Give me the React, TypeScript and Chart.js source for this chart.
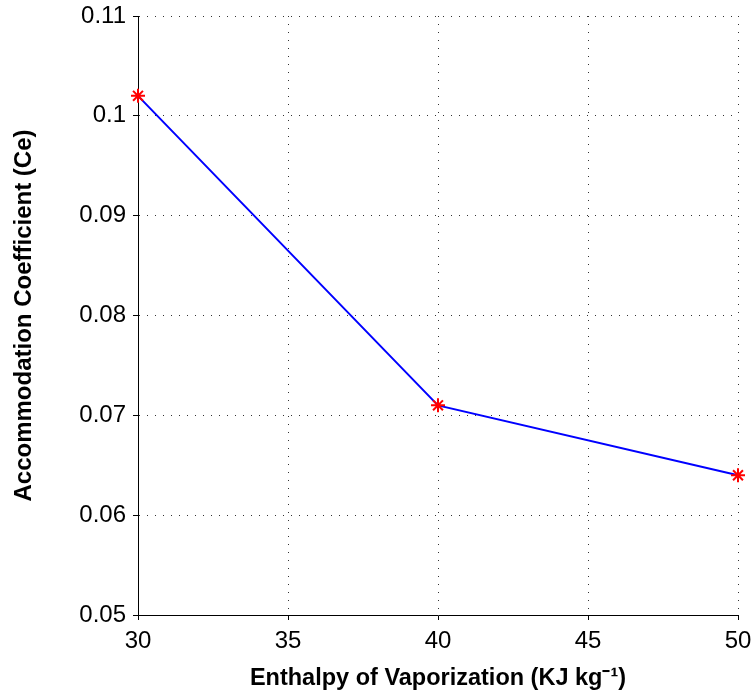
import React, { useEffect, useRef } from "react";
import { Chart, registerables } from "chart.js";

Chart.register(...registerables);

const enthalpy = [30, 40, 50];
const coefficient = [0.102, 0.071, 0.064];
const xTicks = [30, 35, 40, 45, 50];
const yTicks = [0.05, 0.06, 0.07, 0.08, 0.09, 0.1, 0.11];
const yTickLabels = ["0.05", "0.06", "0.07", "0.08", "0.09", "0.1", "0.11"];

export default function App() {
  const ref = useRef<HTMLCanvasElement>(null);
  useEffect(() => {
    if (!ref.current) return;
    const font = "Arial, 'Liberation Sans', Helvetica, sans-serif";
    const chart = new Chart(ref.current, {
      type: "line",
      data: {
        datasets: [
          {
            data: enthalpy.map((x, i) => ({ x, y: coefficient[i] })),
            borderColor: "#0000ff",
            borderWidth: 2,
            pointStyle: "star",
            pointRadius: 7,
            pointBorderColor: "#ff0000",
            pointBackgroundColor: "#ff0000",
            pointBorderWidth: 2,
            tension: 0,
            clip: false as any,
          },
        ],
      },
      options: {
        animation: false,
        responsive: false,
        maintainAspectRatio: false,
        layout: { padding: { top: 16, right: 15, left: 0, bottom: 0 } },
        plugins: { legend: { display: false }, tooltip: { enabled: false } },
        scales: {
          x: {
            type: "linear",
            min: 30,
            max: 50,
            afterBuildTicks: (s: any) => {
              s.ticks = xTicks.map((v) => ({ value: v }));
            },
            afterFit: (s: any) => {
              s.height = 76;
              s.paddingLeft = 0;
              s.paddingRight = 0;
            },
            ticks: {
              color: "#000",
              font: { family: font, size: 24 },
              padding: 7,
              maxRotation: 0,
            },
            grid: {
              color: "#333",
              tickBorderDash: [],
              tickColor: "#000",
              tickLength: 5,
              lineWidth: 1,
            } as any,
            border: { display: true, color: "#000", width: 1, dash: [1, 7] },
            title: {
              display: true,
              text: "Enthalpy of Vaporization (KJ kg⁻¹)",
              color: "#000",
              font: { family: font, size: 23.5, weight: "bold" },
              padding: { top: 0, bottom: -2 },
            },
          },
          y: {
            type: "linear",
            min: 0.05,
            max: 0.11,
            afterBuildTicks: (s: any) => {
              s.ticks = yTicks.map((v) => ({ value: v }));
            },
            afterFit: (s: any) => {
              s.width = 138;
              s.paddingTop = 0;
              s.paddingBottom = 0;
            },
            ticks: {
              color: "#000",
              font: { family: font, size: 24 },
              padding: 7,
              callback: (v: any) => {
                const i = yTicks.findIndex((t) => Math.abs(t - Number(v)) < 1e-9);
                return i >= 0 ? yTickLabels[i] : "";
              },
            },
            grid: {
              color: "#333",
              tickBorderDash: [],
              tickColor: "#000",
              tickLength: 5,
              lineWidth: 1,
            } as any,
            border: { display: true, color: "#000", width: 1, dash: [1, 7] },
            title: {
              display: true,
              text: "Accommodation Coefficient (Ce)",
              color: "#000",
              font: { family: font, size: 24, weight: "bold" },
              padding: { top: 10, bottom: 0 },
            },
          },
        },
      } as any,
    });
    return () => chart.destroy();
  }, []);
  return (
    <div style={{ position: "fixed", left: 0, top: 0, width: 753, height: 691, background: "#fff" }}>
      <canvas ref={ref} width={753} height={691} style={{ width: 753, height: 691 }} />
    </div>
  );
}
